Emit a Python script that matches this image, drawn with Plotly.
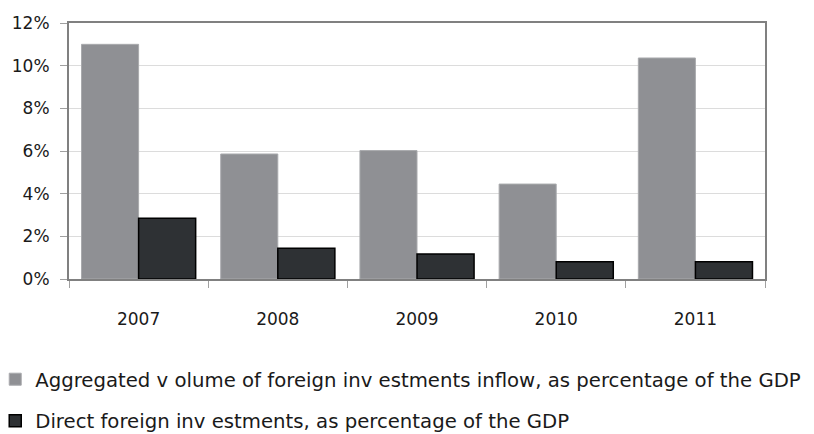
import plotly.graph_objects as go

years = ["2007", "2008", "2009", "2010", "2011"]
aggregated = [11.0, 5.86, 6.02, 4.45, 10.36]
direct = [2.85, 1.44, 1.17, 0.81, 0.81]
y_ticks = [0, 2, 4, 6, 8, 10, 12]
y_tick_labels = ["0%", "2%", "4%", "6%", "8%", "10%", "12%"]
name_agg = "Aggregated v olume of foreign inv estments inflow, as percentage of the GDP"
name_dir = "Direct foreign inv estments, as percentage of the GDP"

FONT = "DejaVu Sans"
TXT = "#1a1a1a"

fig = go.Figure()
fig.add_trace(go.Bar(
    x=years, y=aggregated, name=name_agg, legendgroup="a",
    marker=dict(color="#8f9094", line=dict(color="#a9aaad", width=1)),
))
fig.add_trace(go.Bar(
    x=years, y=direct, name=name_dir, legendgroup="b",
    marker=dict(color="#2e3134", line=dict(color="#000000", width=1.5)),
))

fig.update_layout(
    width=806, height=426,
    margin=dict(l=61, r=49, t=15, b=155, autoexpand=False),
    paper_bgcolor="white", plot_bgcolor="white",
    barmode="group", bargap=0.18, bargroupgap=0,
    font=dict(family=FONT, size=17, color=TXT),
    showlegend=True,
    legend=dict(
        orientation="v",
        x=-0.106, xanchor="left", y=-0.316, yanchor="top",
        font=dict(family=FONT, size=19.7, color=TXT),
        traceorder="grouped", tracegroupgap=13,
        itemwidth=30, bgcolor="rgba(0,0,0,0)",
    ),
)
fig.update_xaxes(
    type="category", showline=True, linecolor="#808080", linewidth=2,
    mirror=True, ticks="outside", tickson="boundaries", ticklen=7,
    tickcolor="#a0a0a0", showgrid=False, ticklabelstandoff=24,
    tickfont=dict(family=FONT, size=17, color=TXT),
)
fig.update_yaxes(
    range=[0, 12], tickvals=y_ticks, ticktext=y_tick_labels,
    showline=True, linecolor="#808080", linewidth=2, mirror=True,
    ticks="outside", ticklen=7, tickcolor="#a0a0a0", ticklabelstandoff=7,
    showgrid=True, gridcolor="#dcdcdc", gridwidth=1,
    tickfont=dict(family=FONT, size=17, color=TXT),
    zeroline=False,
)

fig.write_html("out.html")
